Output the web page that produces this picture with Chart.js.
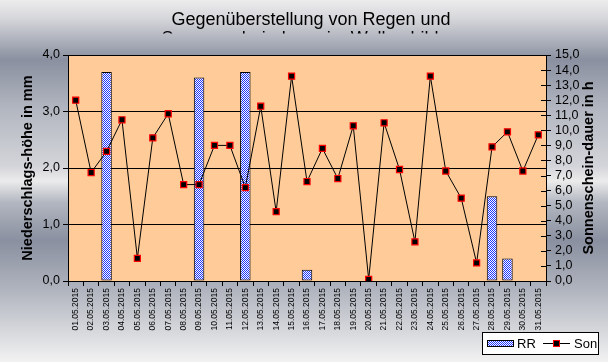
<!DOCTYPE html>
<html><head><meta charset="utf-8">
<script src="https://cdn.jsdelivr.net/npm/chart.js@4"></script>
<style>html,body{margin:0;padding:0;overflow:hidden;background:#fff}#wrap{position:relative;width:608px;height:362px}</style>
</head><body><div id="wrap"><canvas id="c" width="608" height="362"></canvas></div>
<script>
const titleLines = ['Gegenüberstellung von Regen und', 'Sonnenscheindauer im Wolkenbild'];
const categories = ['01.05.2015','02.05.2015','03.05.2015','04.05.2015','05.05.2015','06.05.2015','07.05.2015','08.05.2015','09.05.2015','10.05.2015','11.05.2015','12.05.2015','13.05.2015','14.05.2015','15.05.2015','16.05.2015','17.05.2015','18.05.2015','19.05.2015','20.05.2015','21.05.2015','22.05.2015','23.05.2015','24.05.2015','25.05.2015','26.05.2015','27.05.2015','28.05.2015','29.05.2015','30.05.2015','31.05.2015'];
const rrValues = [0,0,3.7,0,0,0,0,0,3.6,0,0,3.7,0,0,0,0.2,0,0,0,0,0,0,0,0,0,0,0,1.5,0.4,0,0];
const sonValues = [12.0,7.2,8.6,10.7,1.5,9.5,11.1,6.4,6.4,9.0,9.0,6.2,11.6,4.6,13.6,6.6,8.8,6.8,10.3,0.1,10.5,7.4,2.6,13.6,7.3,5.5,1.2,8.9,9.9,7.3,9.7];
const seriesNames = ['RR', 'Son'];
const leftAxisTitle = 'Niederschlags-höhe in mm';
const rightAxisTitle = 'Sonnenschein-dauer in h';
const leftRange = [0, 4];
const rightRange = [0, 15];

const SANS = "'Liberation Sans', Arial, sans-serif";

function makePattern(ctx) {
  const p = document.createElement('canvas');
  p.width = 2; p.height = 2;
  const pc = p.getContext('2d');
  pc.fillStyle = '#ffffff'; pc.fillRect(0,0,2,2);
  pc.fillStyle = '#1c34ff'; pc.fillRect(0,0,1,1); pc.fillRect(1,1,1,1);
  return ctx.createPattern(p, 'repeat');
}
const canvas = document.getElementById('c');
const ctx0 = canvas.getContext('2d');
const checker = makePattern(ctx0);

const fmt = v => Number(v).toFixed(1).replace('.', ',');

const bgPlugin = {
  id: 'bg',
  beforeDraw(chart) {
    const {ctx, width, height, chartArea: a} = chart;
    ctx.save();
    const g = ctx.createLinearGradient(0, 0, 0, height);
    g.addColorStop(0, '#ececec');
    g.addColorStop(0.05, '#d6d7db');
    g.addColorStop(0.165, '#8a90a0');
    g.addColorStop(0.3, '#b2b6c0');
    g.addColorStop(0.46, '#d4d5da');
    g.addColorStop(0.5, '#ebebeb');
    g.addColorStop(0.56, '#b2b6c0');
    g.addColorStop(0.665, '#8a90a0');
    g.addColorStop(0.8, '#b0b4be');
    g.addColorStop(1, '#f2f2f2');
    ctx.fillStyle = g;
    ctx.fillRect(0, 0, width, height);
    ctx.fillStyle = '#ffcc99';
    ctx.fillRect(a.left, a.top, a.right - a.left, a.bottom - a.top);
    ctx.beginPath();
    ctx.rect(0, 0, width, 33.5);
    ctx.clip();
    ctx.fillStyle = '#000';
    ctx.font = "18px " + SANS;
    ctx.textAlign = 'center';
    ctx.textBaseline = 'alphabetic';
    ctx.fillText(titleLines[0], 311, 25);
    ctx.fillText(titleLines[1], 300, 44);
    ctx.restore();
  },
  afterDraw(chart) {
    const {ctx, chartArea: a} = chart;
    const y1 = chart.scales.y1;
    ctx.save();
    ctx.strokeStyle = '#000';
    ctx.lineWidth = 1;
    ctx.beginPath();
    for (let v = rightRange[0]; v <= rightRange[1]; v++) {
      const y = Math.round(y1.getPixelForValue(v)) + 0.5;
      ctx.moveTo(a.right - 5, y); ctx.lineTo(a.right, y);
    }
    ctx.stroke();
    ctx.strokeRect(Math.round(a.left) + 0.5, Math.round(a.top) + 0.5, Math.round(a.right - a.left), Math.round(a.bottom - a.top));
    // right axis title, reading bottom to top
    ctx.save();
    ctx.translate(589, (a.top + a.bottom) / 2);
    ctx.rotate(-Math.PI / 2);
    ctx.fillStyle = '#000';
    ctx.font = "bold 14.5px " + SANS;
    ctx.textAlign = 'center';
    ctx.textBaseline = 'middle';
    ctx.fillText(rightAxisTitle, 0, 0);
    ctx.restore();
    // legend
    const lx = 482, ly = 332, lw = 116, lh = 22;
    ctx.fillStyle = '#fff';
    ctx.fillRect(lx, ly, lw, lh);
    ctx.strokeRect(lx + 0.5, ly + 0.5, lw, lh);
    ctx.fillStyle = checker;
    ctx.fillRect(487, 340, 26, 6);
    ctx.strokeRect(487.5, 340.5, 26, 6);
    ctx.fillStyle = '#000';
    ctx.font = "13px " + SANS;
    ctx.textAlign = 'left';
    ctx.textBaseline = 'middle';
    ctx.fillText(seriesNames[0], 517, 344);
    ctx.beginPath();
    ctx.moveTo(543, 343.5); ctx.lineTo(570, 343.5);
    ctx.stroke();
    ctx.fillStyle = '#000';
    ctx.fillRect(553, 340, 7, 7);
    ctx.strokeStyle = '#ff0000';
    ctx.strokeRect(553.5, 340.5, 6, 6);
    ctx.fillStyle = '#000';
    ctx.fillText(seriesNames[1], 574, 344);
    ctx.restore();
  }
};

new Chart(canvas, {
  type: 'bar',
  data: {
    labels: categories,
    datasets: [
      {
        type: 'line', label: seriesNames[1], data: sonValues, yAxisID: 'y1', order: 0,
        borderColor: '#000', borderWidth: 1, tension: 0, fill: false,
        pointStyle: 'rect', pointRadius: 4.3, pointHoverRadius: 4.3,
        pointBackgroundColor: '#000', pointBorderColor: '#ff0000', pointBorderWidth: 1.2
      },
      {
        type: 'bar', label: seriesNames[0], data: rrValues, yAxisID: 'y', order: 1,
        backgroundColor: checker, borderColor: '#000', borderWidth: 1, borderSkipped: false,
        barPercentage: 0.68, categoryPercentage: 1
      }
    ]
  },
  options: {
    responsive: false, animation: false, devicePixelRatio: 1,
    layout: { padding: { top: 55, left: 0, right: 0, bottom: 0 } },
    plugins: { legend: { display: false }, title: { display: false }, tooltip: { enabled: false } },
    scales: {
      x: {
        offset: true,
        grid: { offset: true, drawOnChartArea: false, drawTicks: true, tickLength: 5, color: '#000', lineWidth: 1 },
        border: { display: true, color: '#000', width: 1 },
        ticks: { autoSkip: false, maxRotation: 90, minRotation: 90, padding: 2, color: '#000', font: { family: SANS, size: 8.5 } },
        afterFit(s) { s.height = 81; }
      },
      y: {
        position: 'left', min: leftRange[0], max: leftRange[1],
        grid: { color: '#000', lineWidth: 1, drawTicks: true, tickLength: 5 },
        border: { display: true, color: '#000', width: 1 },
        ticks: { autoSkip: false, stepSize: 1, padding: 3, color: '#000', font: { family: SANS, size: 12.5 }, callback: v => fmt(v) },
        title: { display: true, text: leftAxisTitle, color: '#000', font: { family: SANS, size: 14.5, weight: 'bold' }, padding: { top: 19, bottom: 0 } },
        afterFit(s) { s.width = 68; }
      },
      y1: {
        position: 'right', min: rightRange[0], max: rightRange[1],
        grid: { drawOnChartArea: false, color: '#000', lineWidth: 1, drawTicks: true, tickLength: 5 },
        border: { display: true, color: '#000', width: 1 },
        ticks: { autoSkip: false, stepSize: 1, padding: 4, color: '#000', font: { family: SANS, size: 12.5 }, callback: v => fmt(v) },
        title: { display: false },
        afterFit(s) { s.width = 62; }
      }
    }
  },
  plugins: [bgPlugin]
});
</script>
</body></html>
